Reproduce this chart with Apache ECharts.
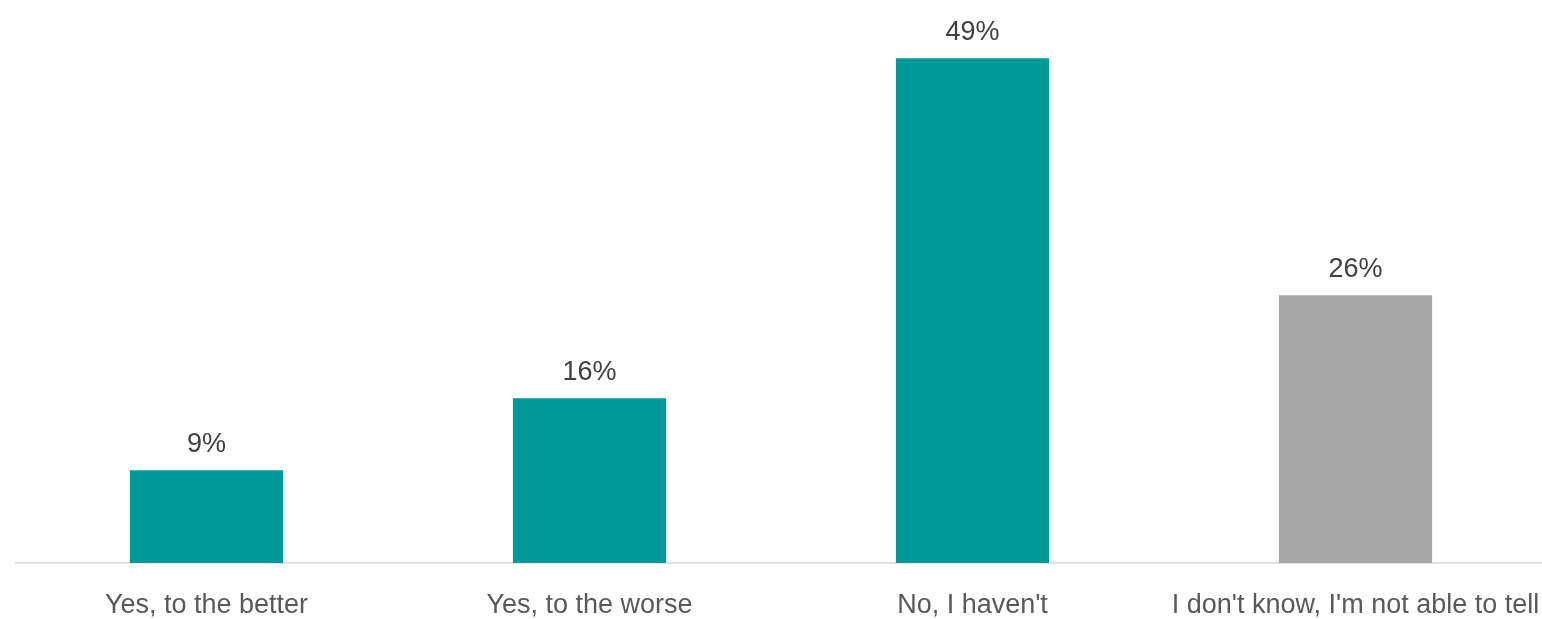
<!DOCTYPE html>
<html><head><meta charset="utf-8">
<script src="https://cdn.jsdelivr.net/npm/echarts@6/dist/echarts.min.js"></script>
<style>html,body{margin:0;padding:0;background:#fff}#c{width:1542px;height:619px}</style>
</head><body><div id="c"></div>
<script>
const categories = ["Yes, to the better", "Yes, to the worse", "No, I haven't", "I don't know, I'm not able to tell"];
const values = [9, 16, 49, 26];
const barColors = ["#009999", "#009999", "#009999", "#A5A5A5"];

const chart = echarts.init(document.getElementById('c'), null, {renderer: 'canvas'});
chart.setOption({
  animation: false,
  grid: {left: 15, top: 48, width: 1532, height: 515, containLabel: false, outerBoundsMode: 'none'},
  xAxis: {
    type: 'category', data: categories,
    axisLine: {lineStyle: {color: '#D9D9D9', width: 1.5}},
    axisTick: {show: false},
    axisLabel: {color: '#595959', fontFamily: 'Liberation Sans', fontSize: 27, margin: 29, interval: 0}
  },
  yAxis: {type: 'value', min: 0, max: 50, show: false, splitLine: {show: false}},
  series: [{
    type: 'bar', barWidth: '40%',
    data: values.map((v, i) => ({value: v, itemStyle: {color: barColors[i]}})),
    label: {show: true, position: 'top', distance: 12, formatter: '{c}%', color: '#404040', fontFamily: 'Liberation Sans', fontSize: 27}
  }]
});
</script></body></html>
